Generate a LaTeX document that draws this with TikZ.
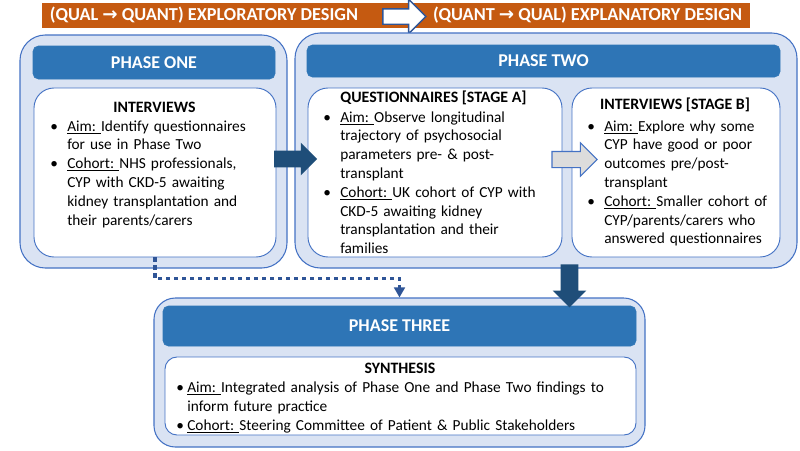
\documentclass[tikz,border=0pt]{standalone}
\usepackage{fontspec}
\setmainfont{Carlito}
\newfontfamily\symfont{DejaVu Sans}
\usetikzlibrary{shapes.arrows,fit,arrows.meta,calc}
\definecolor{orng}{HTML}{C55A11}
\definecolor{lightc}{HTML}{DAE3F3}
\definecolor{bordc}{HTML}{4472C4}
\definecolor{hdrc}{HTML}{2E75B6}
\definecolor{darkc}{HTML}{1F4E79}
\definecolor{grayc}{HTML}{DCDCDC}
\definecolor{dotc}{HTML}{2F5597}
\newcommand\blt{\makebox[12.75pt][l]{\textbullet}}
\newcommand\ind{\hspace*{12.75pt}}
\newcommand\bltb{\makebox[8.25pt][l]{\textbullet}}
\newcommand\indb{\hspace*{8.25pt}}
\newcommand\ul[1]{\underline{#1\ }}
\newcommand\arr{{\symfont\bfseries →}}
\begin{document}
\begin{tikzpicture}[x=0.75pt,y=-0.75pt,
  outerbox/.style={draw=bordc, line width=0.8pt, fill=lightc, rounded corners=19pt, inner sep=0pt},
  whitebox/.style={draw=bordc, line width=0.7pt, fill=white, rounded corners=15pt, inner sep=0pt},
  hdr/.style={fill=hdrc, draw=hdrc, rounded corners=4pt, inner sep=0pt},
  hdrtxt/.style={text=white, inner sep=0pt, font=\fontsize{13.5}{16}\selectfont\bfseries},
  banner/.style={fill=orng, inner sep=0pt},
  bannertxt/.style={text=white, inner sep=0pt, font=\fontsize{13.7}{16}\selectfont\bfseries},
  title/.style={inner sep=0pt, font=\fontsize{11.9}{14}\selectfont\bfseries},
  body/.style={inner sep=0pt, anchor=base west, align=left, font=\fontsize{11.5}{14.1}\selectfont},
  blockarrow/.style={shape=single arrow, inner sep=0pt, single arrow tip angle=90},
  dotconn/.style={draw=dotc, line width=2.3pt, dash pattern=on 3.3pt off 2.7pt,
                  -{Triangle[length=7.5pt,width=8pt]}}
]
\useasboundingbox (0,0) rectangle (800,450);

% banner
\node[banner, fit={(42,3)(750,28)}] (ban) {};
\node[bannertxt] (bl) at (204,15.5) {(QUAL \arr{} QUANT) EXPLORATORY DESIGN};
\node[bannertxt] (br) at (587.5,15.5) {(QUANT \arr{} QUAL) EXPLANATORY DESIGN};
\node[blockarrow, fill=white, draw=dotc, line width=1.1pt, minimum height=32.25pt,
      single arrow head extend=7.1pt] (barr) at (400.5,16.5) {\rule{0pt}{10.5pt}};

% phase one
\node[outerbox, fit={(20,35)(287,268)}] (p1) {};
\node[hdr, fit={(33,46)(275,79)}] (p1h) {};
\node[hdrtxt] (p1ht) at (p1h.center) {PHASE ONE};
\node[whitebox, fit={(34,88)(276,257)}] (p1w) {};
\node[title] (p1t) at (154.5,107) {INTERVIEWS};
\node[body, text width=175pt] (p1b) at (50,131) {\blt\ul{Aim:}Identify questionnaires\\
\ind for use in Phase Two\\
\blt\ul{Cohort:}NHS professionals,\\
\ind CYP with CKD-5 awaiting\\
\ind kidney transplantation and\\
\ind their parents/carers};

% phase two
\node[outerbox, fit={(295,33)(797,268)}] (p2) {};
\node[hdr, fit={(307,45)(780,77)}] (p2h) {};
\node[hdrtxt] (p2ht) at (p2h.center) {PHASE TWO};
\node[whitebox, fit={(308,88)(562,257)}] (p2a) {};
\node[whitebox, fit={(572,88)(780,257)}] (p2b) {};
\node[title] (p2at) at (433.5,98) {QUESTIONNAIRES [STAGE A]};
\node[body, text width=180pt] (p2ab) at (323,122) {\blt\ul{Aim:}Observe longitudinal\\
\ind trajectory of psychosocial\\
\ind parameters pre- \& post-\\
\ind transplant\\
\blt\ul{Cohort:}UK cohort of CYP with\\
\ind CKD-5 awaiting kidney\\
\ind transplantation and their\\
\ind families};
\node[title] (p2bt) at (675,105) {INTERVIEWS [STAGE B]};
\node[body, text width=155pt] (p2bb) at (587,131) {\blt\ul{Aim:}Explore why some\\
\ind CYP have good or poor\\
\ind outcomes pre/post-\\
\ind transplant\\
\blt\ul{Cohort:}Smaller cohort of\\
\ind CYP/parents/carers who\\
\ind answered questionnaires};

% phase three
\node[outerbox, rounded corners=16pt, fit={(154,298)(645,447)}] (p3) {};
\node[hdr, fit={(163,306)(636,346)}] (p3h) {};
\node[hdrtxt] (p3ht) at (p3h.center) {PHASE THREE};
\node[whitebox, rounded corners=9pt, fit={(165,357)(636,435)}] (p3w) {};
\node[title] (p3t) at (400,368) {SYNTHESIS};
\node[body, text width=345pt] (p3b) at (176,392.5) {\bltb\ul{Aim:}Integrated analysis of Phase One and Phase Two findings to\\
\indb inform future practice\\
\bltb\ul{Cohort:}Steering Committee of Patient \& Public Stakeholders};

% arrows
\node[blockarrow, fill=darkc, minimum height=32.25pt,
      single arrow head extend=6pt] (a12) at (291.5,159) {\rule{0pt}{12pt}};
\node[blockarrow, fill=grayc, draw=bordc, line width=0.8pt, minimum height=33.75pt,
      single arrow head extend=6.4pt] (aab) at (570.5,159.5) {\rule{0pt}{11.25pt}};
\node[blockarrow, fill=darkc, minimum height=32.25pt,
      single arrow head extend=6pt, rotate=-90] (a23) at (569.5,281.5) {\rule{0pt}{12.75pt}};
\draw[dotconn] (p1w.south) -- ++(0,21) -| (p3.north);
\end{tikzpicture}
\end{document}
